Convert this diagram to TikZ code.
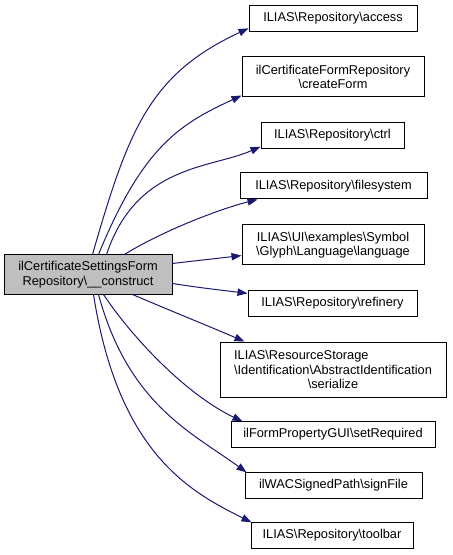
\documentclass[tikz,border=0pt]{standalone}
\usepackage{fontspec}
\setmainfont{Liberation Sans}
\usetikzlibrary{arrows.meta,calc}
\definecolor{edgeblue}{RGB}{25,25,112}
\definecolor{srcgrey}{RGB}{191,191,191}
\begin{document}
\begin{tikzpicture}[x=0.75pt,y=-0.75pt,
  box/.style={draw=black,line width=0.75pt,fill=white,align=center,inner sep=0pt,font=\fontsize{9.6}{10.8}\selectfont},
  edge/.style={draw=edgeblue,line width=0.75pt,-{Triangle[length=7.5pt,width=5.5pt]}}]
\useasboundingbox (0,0) rectangle (452,555);
\node[box,fill=srcgrey,minimum width=126pt,minimum height=29.25pt] (src) at (88,274.5) {ilCertificateSettingsForm\\Repository\textbackslash\_\_construct};
\node[box,minimum width=126pt,minimum height=20pt] (access) at (333,18.5) {ILIAS\textbackslash Repository\textbackslash access};
\node[box,minimum width=136.5pt,minimum height=30pt] (createForm) at (333,77) {ilCertificateFormRepository\\\textbackslash createForm};
\node[box,minimum width=107.25pt,minimum height=19pt] (ctrl) at (332.5,135.5) {ILIAS\textbackslash Repository\textbackslash ctrl};
\node[box,minimum width=140.25pt,minimum height=19.5pt] (filesystem) at (333.5,186) {ILIAS\textbackslash Repository\textbackslash filesystem};
\node[box,minimum width=136.5pt,minimum height=30pt] (language) at (333,245) {ILIAS\textbackslash UI\textbackslash examples\textbackslash Symbol\\\textbackslash Glyph\textbackslash Language\textbackslash language};
\node[box,minimum width=126.75pt,minimum height=19pt] (refinery) at (332.5,303.5) {ILIAS\textbackslash Repository\textbackslash refinery};
\node[box,minimum width=169.5pt,minimum height=41.25pt] (serialize) at (333,369.5) {\rlap{ILIAS\textbackslash ResourceStorage}\phantom{\textbackslash Identification\textbackslash AbstractIdentification}\\\textbackslash Identification\textbackslash AbstractIdentification\\\textbackslash serialize};
\node[box,minimum width=153pt,minimum height=19pt] (setRequired) at (333,434.5) {ilFormPropertyGUI\textbackslash setRequired};
\node[box,minimum width=132.75pt,minimum height=19pt] (signFile) at (333.5,485.5) {ilWACSignedPath\textbackslash signFile};
\node[box,minimum width=121.5pt,minimum height=19pt] (toolbar) at (332,535.5) {ILIAS\textbackslash Repository\textbackslash toolbar};
% edges
\draw[edge] ($(src.north west)+(89,0)$) .. controls +(36,-125) and +(-99,46) .. ($(access.south west)+(0,-4)$);
\draw[edge] ($(src.north west)+(95,0)$) .. controls +(45,-110) and +(-60,28) .. ($(createForm.south west)+(0,-2)$);
\draw[edge] ($(src.north west)+(103,0)$) .. controls +(30,-90) and +(-50,22) .. ($(ctrl.south west)+(0,-2)$);
\draw[edge] ($(src.north west)+(121,0)$) .. controls +(35,-22) and +(-40,10) .. ($(filesystem.south west)+(18,0)$);
\draw[edge] ($(src.north east)+(0,9)$) .. controls +(25,-3) and +(-25,3) .. ($(language.south west)+(0,-10)$);
\draw[edge] ($(src.north east)+(0,29)$) .. controls +(25,4) and +(-25,-3) .. ($(refinery.north west)+(0,3)$);
\draw[edge] ($(src.south west)+(129,0)$) .. controls +(35,15) and +(-35,-15) .. ($(serialize.north west)+(25,0)$);
\draw[edge] ($(src.south west)+(100,0)$) .. controls +(30,45) and +(-55,-26) .. ($(setRequired.north west)+(12,0)$);
\draw[edge] ($(src.south west)+(95,0)$) .. controls +(30,110) and +(-55,-40) .. ($(signFile.north west)+(2,0)$);
\draw[edge] ($(src.south west)+(90,0)$) .. controls +(25,160) and +(-60,-30) .. ($(toolbar.north west)+(1,0)$);
\end{tikzpicture}
\end{document}
